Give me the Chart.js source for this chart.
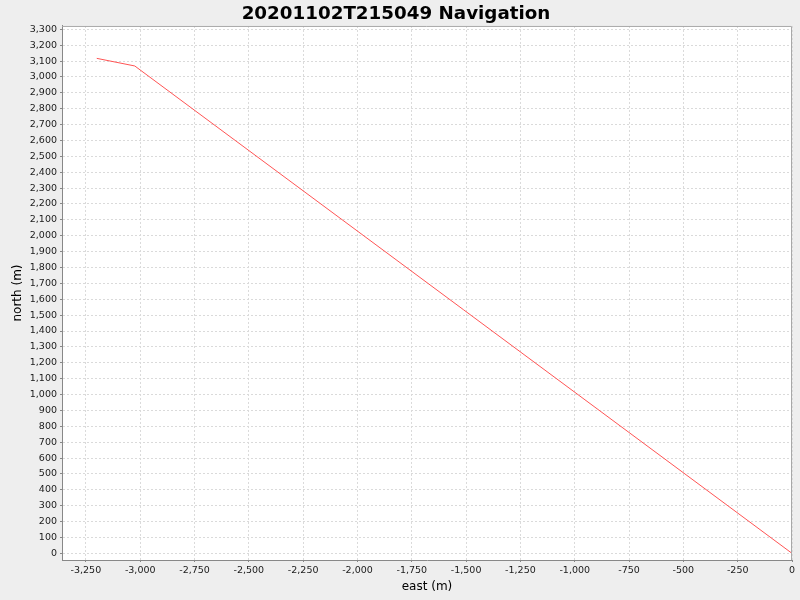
<!DOCTYPE html>
<html>
<head>
<meta charset="utf-8">
<script src="https://cdn.jsdelivr.net/npm/chart.js@4/dist/chart.umd.min.js"></script>
<style>
  html, body { margin: 0; padding: 0; background: #eeeeee; }
  #wrap { width: 800px; height: 600px; }
</style>
</head>
<body>
<div id="wrap"><canvas id="navChart" width="800" height="600"></canvas></div>
<script>
// Track: east / north in metres
const eastVals  = [-3200, -3025, 0];
const northVals = [3117, 3069, 0];

// Tick values
const eastTicks  = [-3250, -3000, -2750, -2500, -2250, -2000, -1750, -1500, -1250, -1000, -750, -500, -250, 0];
const northTicks = [];
for (let v = 0; v <= 3300; v += 100) northTicks.push(v);

const titleText = "20201102T215049 Navigation";

// white plot area + outline
const plotBg = {
  id: "plotBg",
  beforeDraw(chart) {
    const { ctx, chartArea: a } = chart;
    ctx.save();
    ctx.fillStyle = "#ffffff";
    ctx.fillRect(a.left, a.top, a.right - a.left, a.bottom - a.top);
    ctx.restore();
  },
  afterDraw(chart) {
    const { ctx, chartArea: a } = chart;
    ctx.save();
    ctx.strokeStyle = "#a8a8a8";
    ctx.lineWidth = 1;
    ctx.beginPath();
    ctx.moveTo(a.left, a.top + 0.5);
    ctx.lineTo(a.right - 0.5, a.top + 0.5);
    ctx.lineTo(a.right - 0.5, a.bottom);
    ctx.stroke();
    ctx.restore();
  }
};

const fmt = (v) => Number(v).toLocaleString("en-US");

const ctx = document.getElementById("navChart").getContext("2d");
const navChart = new Chart(ctx, {
  type: "scatter",
  data: {
    datasets: [{
      label: "track",
      data: eastVals.map((e, i) => ({ x: e, y: northVals[i] })),
      showLine: true,
      borderColor: "#ff5555",
      borderWidth: 1,
      pointRadius: 0,
      fill: false,
      tension: 0
    }]
  },
  options: {
    responsive: false,
    animation: false,
    layout: { padding: { left: 0, right: 8, top: 0, bottom: 0 } },
    plugins: {
      legend: { display: false },
      tooltip: { enabled: false },
      title: {
        display: true,
        text: titleText,
        color: "#000000",
        font: { family: "DejaVu Sans", size: 18.3, weight: "bold", lineHeight: 1.2 },
        padding: { top: 3, bottom: 1 }
      }
    },
    scales: {
      x: {
        type: "linear",
        min: -3360,
        max: 0,
        afterBuildTicks: (s) => { s.ticks = eastTicks.map((v) => ({ value: v })); },
        afterFit: (s) => { s.height = 40; },
        ticks: {
          color: "#1a1a1a",
          font: { family: "DejaVu Sans", size: 9.5 },
          padding: 3,
          maxRotation: 0,
          autoSkip: false,
          callback: (v) => fmt(v)
        },
        grid: {
          color: "#dadada",
          lineWidth: 1,
          tickLength: 2,
          tickColor: "#888888",
          tickBorderDash: [],
          drawTicks: true
        },
        border: { display: true, color: "#888888", width: 1, dash: [2, 2] },
        title: {
          display: true,
          text: "east (m)",
          color: "#000000",
          font: { family: "DejaVu Sans", size: 12, lineHeight: 1.2 },
          padding: { top: 0, bottom: 6 }
        }
      },
      y: {
        type: "linear",
        min: -42,
        max: 3321,
        afterBuildTicks: (s) => { s.ticks = northTicks.map((v) => ({ value: v })); },
        afterFit: (s) => { s.width = 62; },
        ticks: {
          color: "#1a1a1a",
          font: { family: "DejaVu Sans", size: 9.5 },
          padding: 3,
          autoSkip: false,
          callback: (v) => fmt(v)
        },
        grid: {
          color: "#dadada",
          lineWidth: 1,
          tickLength: 2,
          tickColor: "#888888",
          tickBorderDash: [],
          drawTicks: true
        },
        border: { display: true, color: "#888888", width: 1, dash: [2, 2] },
        title: {
          display: true,
          text: "north (m)",
          color: "#000000",
          font: { family: "DejaVu Sans", size: 12, lineHeight: 1.2 },
          padding: { top: 11, bottom: 0 }
        }
      }
    }
  },
  plugins: [plotBg]
});
</script>
</body>
</html>
